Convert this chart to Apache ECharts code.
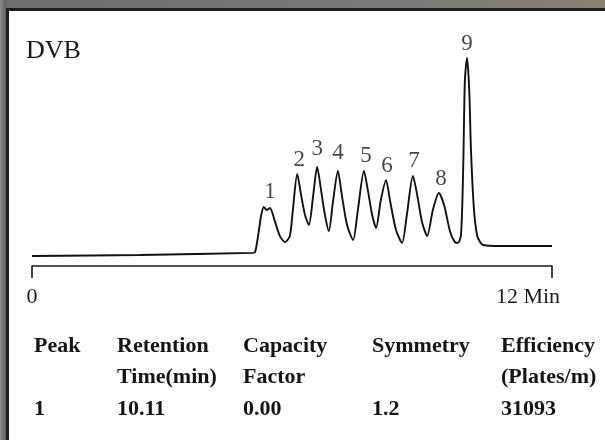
<!DOCTYPE html>
<html>
<head>
<meta charset="utf-8">
<script src="https://cdn.jsdelivr.net/npm/echarts@6/dist/echarts.min.js"></script>
<style>
html,body{margin:0;padding:0;background:#fff;}
#c{width:605px;height:440px;}
</style>
</head>
<body>
<div id="c"></div>
<script>
// ---- data ----
var traceTime = [0.00, 2.49, 5.10, 5.15, 5.22, 5.29, 5.35, 5.42, 5.49, 5.61, 5.72, 5.84, 5.95, 6.02, 6.12, 6.21, 6.30, 6.39, 6.49, 6.58, 6.67, 6.76, 6.85, 6.95, 7.06, 7.15, 7.27, 7.41, 7.52, 7.66, 7.75, 7.85, 7.94, 8.05, 8.17, 8.26, 8.40, 8.54, 8.65, 8.79, 8.89, 9.00, 9.12, 9.25, 9.39, 9.51, 9.65, 9.76, 9.83, 9.90, 9.95, 9.99, 10.04, 10.09, 10.13, 10.20, 10.27, 10.34, 10.41, 10.80, 12.00];
var traceSignal = [4.8, 5.3, 6.3, 6.7, 14.9, 24.5, 28.4, 26.9, 27.9, 21.2, 14.4, 11.5, 14.4, 26.9, 44.2, 34.1, 24.5, 19.7, 34.1, 47.6, 36.5, 24.5, 16.8, 31.7, 45.7, 34.1, 19.7, 12.5, 26.9, 45.7, 36.5, 24.5, 18.3, 31.7, 41.3, 31.7, 17.3, 11.1, 24.5, 43.3, 34.1, 21.2, 14.4, 26.9, 35.1, 29.3, 16.3, 11.5, 11.1, 14.9, 46.2, 89.4, 100, 84.6, 55.8, 26.9, 14.9, 11.5, 10.1, 9.6, 9.6];
var peakNames = ['1','2','3','4','5','6','7','8','9'];
var peakTimes = [5.47, 6.12, 6.58, 7.06, 7.66, 8.17, 8.79, 9.39, 10.04];
var peakHeights = [28.4, 44.2, 47.6, 45.7, 45.7, 41.3, 43.3, 35.1, 100];
var axisTicks = [0, 12];
var axisTickLabels = ['0', '12 Min'];
var sampleName = 'DVB';
var tableHead1 = ['Peak', 'Retention', 'Capacity', 'Symmetry', 'Efficiency'];
var tableHead2 = ['', 'Time(min)', 'Factor', '', '(Plates/m)'];
var tableRow1 = ['1', '10.11', '0.00', '1.2', '31093'];

// ---- chart ----
var chart = echarts.init(document.getElementById('c'), null, {renderer: 'canvas'});
var SERIF = 'Liberation Serif';

var trace = traceTime.map(function (t, i) { return [t, traceSignal[i]]; });
var labelOffsets = [[1, 0], [2, 0], [0, -4], [0, -3], [2, 0], [1, 0], [1, 0], [2, 0], [0, 0]];
var peaks = peakTimes.map(function (t, i) {
  return {value: [t, peakHeights[i]], name: peakNames[i],
          label: {offset: labelOffsets[i]}};
});

var colX = [34, 117, 243, 372, 501];
var rowY = [346, 377, 409];
var tableGraphics = [];
[tableHead1, tableHead2, tableRow1].forEach(function (row, r) {
  row.forEach(function (txt, c) {
    if (!txt) return;
    tableGraphics.push({
      type: 'text', left: colX[c], top: rowY[r] - 11,
      style: {text: txt, fontFamily: SERIF, fontWeight: 'bold', fontSize: 22, fill: '#151515'}
    });
  });
});

var frame = [
  {type: 'rect', shape: {x: 0, y: 0, width: 605, height: 8},
   style: {fill: new echarts.graphic.LinearGradient(0, 0, 1, 0, [
     {offset: 0, color: '#6e6e6e'}, {offset: 0.6, color: '#7a7a78'}, {offset: 1, color: '#8a8070'}])}},
  {type: 'rect', shape: {x: 0, y: 0, width: 6, height: 440},
   style: {fill: new echarts.graphic.LinearGradient(0, 0, 1, 0, [
     {offset: 0, color: '#8c8c8c'}, {offset: 1, color: '#5e5e5e'}])}},
  {type: 'rect', shape: {x: 6, y: 8, width: 599, height: 3}, style: {fill: '#1c1c1c'}},
  {type: 'rect', shape: {x: 6, y: 8, width: 3, height: 432}, style: {fill: '#1c1c1c'}}
];

chart.setOption({
  backgroundColor: '#fff',
  animation: false,
  textStyle: {fontFamily: SERIF},
  title: {text: sampleName, left: 21, top: 33,
          textStyle: {fontFamily: SERIF, fontWeight: 'normal', fontSize: 26, color: '#1a1a1a'}},
  grid: {left: 32, right: 53, top: 58, bottom: 174},
  xAxis: {
    type: 'value', min: 0, max: 12, interval: 12,
    axisLine: {show: true, lineStyle: {color: '#1a1a1a', width: 1.6}},
    axisTick: {show: true, length: 12, lineStyle: {color: '#1a1a1a', width: 1.6}},
    splitLine: {show: false},
    axisLabel: {
      margin: 20, fontFamily: SERIF, fontSize: 22, color: '#1a1a1a',
      formatter: function (v) {
        var i = axisTicks.indexOf(v);
        var s = i >= 0 ? axisTickLabels[i] : '';
        return i === axisTicks.length - 1 ? '{r|' + s + '}' : s;
      },
      rich: {r: {fontFamily: SERIF, fontSize: 22, color: '#1a1a1a', padding: [0, 48, 0, 0]}}
    }
  },
  yAxis: {type: 'value', min: 0, max: 100, show: false},
  series: [
    {type: 'line', data: trace, smooth: 0.25, symbol: 'none',
     lineStyle: {color: '#111', width: 1.9}},
    {type: 'scatter', data: peaks, symbolSize: 0,
     label: {show: true, position: 'top', distance: 3, formatter: '{b}',
             fontFamily: SERIF, fontSize: 23, color: '#1a1a1a'}}
  ],
  graphic: frame.concat(tableGraphics)
});
</script>
</body>
</html>
